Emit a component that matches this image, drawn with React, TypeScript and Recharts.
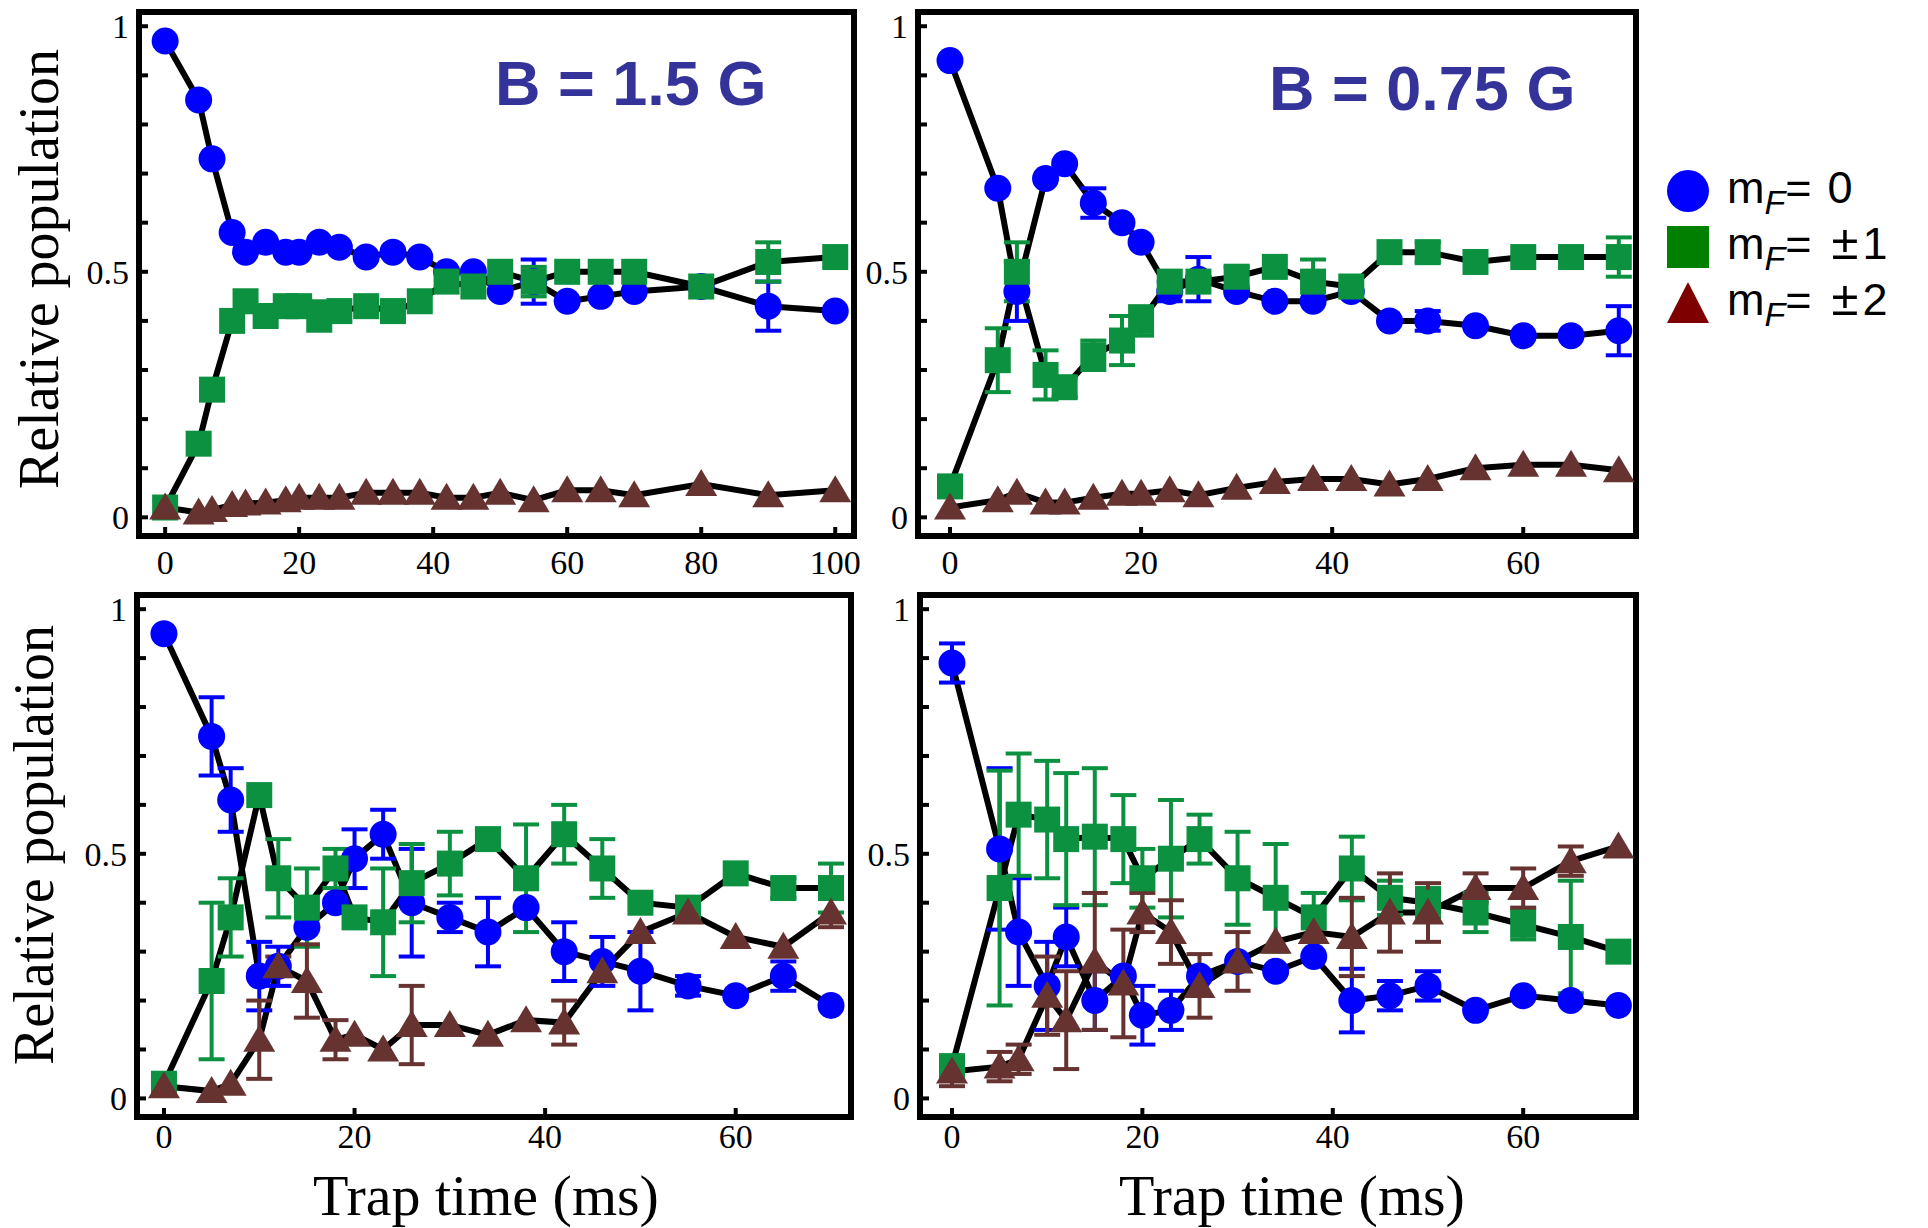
import React from 'react';
import { ComposedChart, Line, Scatter, XAxis, YAxis, ErrorBar, ReferenceArea, Label, Legend } from 'recharts';

// ---------- data ----------
const tlTime = [0, 5, 7, 10, 12, 15, 18, 20, 23, 26, 30, 34, 38, 42, 46, 50, 55, 60, 65, 70, 80, 90, 100];
const tlBlue = [0.97, 0.85, 0.73, 0.58, 0.54, 0.56, 0.54, 0.54, 0.56, 0.55, 0.53, 0.54, 0.53, 0.5, 0.5, 0.46, 0.48, 0.44, 0.45, 0.46, 0.47, 0.43, 0.42];
const tlBlueErr = [0, 0, 0, 0, 0, 0, 0, 0, 0, 0, 0, 0, 0, 0, 0, 0, 0.045, 0, 0, 0, 0, 0.05, 0];
const tlGreen = [0.02, 0.15, 0.26, 0.4, 0.44, 0.41, 0.43, 0.43, 0.41, 0.42, 0.43, 0.42, 0.44, 0.48, 0.47, 0.5, 0.48, 0.5, 0.5, 0.5, 0.47, 0.52, 0.53];
const tlGreenErr = [0, 0, 0, 0, 0, 0, 0, 0, 0.03, 0, 0, 0, 0, 0, 0, 0, 0.03, 0, 0, 0, 0, 0.04, 0];
const tlBrown = [0.02, 0.01, 0.015, 0.025, 0.028, 0.03, 0.035, 0.04, 0.04, 0.04, 0.05, 0.05, 0.05, 0.04, 0.04, 0.05, 0.035, 0.055, 0.055, 0.045, 0.068, 0.045, 0.055];
const tlBrownErr = [0, 0, 0, 0, 0, 0, 0, 0, 0, 0, 0, 0, 0, 0, 0, 0, 0, 0, 0, 0, 0, 0, 0];

const trTime = [0, 5, 7, 10, 12, 15, 18, 20, 23, 26, 30, 34, 38, 42, 46, 50, 55, 60, 65, 70];
const trBlue = [0.93, 0.67, 0.46, 0.69, 0.72, 0.64, 0.6, 0.56, 0.46, 0.485, 0.46, 0.44, 0.44, 0.46, 0.4, 0.4, 0.39, 0.37, 0.37, 0.38];
const trBlueErr = [0, 0, 0.06, 0, 0, 0.03, 0, 0, 0.02, 0.045, 0, 0, 0, 0, 0, 0.02, 0, 0, 0, 0.05];
const trGreen = [0.063, 0.32, 0.5, 0.29, 0.265, 0.33, 0.36, 0.4, 0.48, 0.48, 0.49, 0.51, 0.48, 0.47, 0.54, 0.54, 0.52, 0.53, 0.53, 0.53];
const trGreenErr = [0, 0.065, 0.06, 0.05, 0.02, 0.03, 0.05, 0.03, 0, 0, 0.02, 0, 0.045, 0, 0, 0.02, 0, 0, 0, 0.04];
const trBrown = [0.02, 0.035, 0.05, 0.03, 0.03, 0.04, 0.048, 0.048, 0.055, 0.045, 0.06, 0.072, 0.078, 0.078, 0.067, 0.078, 0.1, 0.107, 0.107, 0.096];
const trBrownErr = [0, 0, 0, 0, 0, 0, 0, 0, 0, 0, 0, 0, 0, 0, 0, 0, 0, 0, 0, 0];

const blTime = [0, 5, 7, 10, 12, 15, 18, 20, 23, 26, 30, 34, 38, 42, 46, 50, 55, 60, 65, 70];
const blBlue = [0.95, 0.74, 0.61, 0.25, 0.27, 0.35, 0.4, 0.49, 0.54, 0.4, 0.37, 0.34, 0.39, 0.3, 0.28, 0.26, 0.23, 0.21, 0.25, 0.19];
const blBlueErr = [0, 0.08, 0.065, 0.07, 0.04, 0, 0, 0.06, 0.05, 0.11, 0.03, 0.07, 0, 0.06, 0.05, 0.08, 0.02, 0, 0.03, 0];
const blGreen = [0.03, 0.24, 0.37, 0.62, 0.45, 0.39, 0.47, 0.37, 0.36, 0.44, 0.48, 0.53, 0.45, 0.54, 0.47, 0.4, 0.39, 0.46, 0.43, 0.43];
const blGreenErr = [0, 0.16, 0.08, 0, 0.08, 0.08, 0.04, 0, 0.11, 0.08, 0.065, 0.02, 0.11, 0.06, 0.06, 0, 0, 0, 0.02, 0.05];
const blBrown = [0.025, 0.015, 0.03, 0.12, 0.27, 0.24, 0.12, 0.13, 0.1, 0.15, 0.15, 0.13, 0.16, 0.155, 0.26, 0.34, 0.38, 0.33, 0.31, 0.38];
const blBrownErr = [0, 0, 0, 0.08, 0.02, 0.075, 0.04, 0, 0, 0.08, 0, 0, 0, 0.045, 0.02, 0, 0, 0, 0, 0.03];

const brTime = [0, 5, 7, 10, 12, 15, 18, 20, 23, 26, 30, 34, 38, 42, 46, 50, 55, 60, 65, 70];
const brBlue = [0.89, 0.51, 0.34, 0.23, 0.33, 0.2, 0.25, 0.17, 0.18, 0.25, 0.28, 0.26, 0.29, 0.2, 0.21, 0.23, 0.18, 0.21, 0.2, 0.19];
const brBlueErr = [0.04, 0.165, 0.11, 0.09, 0.06, 0.06, 0, 0.06, 0.04, 0, 0, 0, 0, 0.065, 0.03, 0.03, 0, 0, 0, 0];
const brGreen = [0.066, 0.43, 0.58, 0.57, 0.53, 0.535, 0.53, 0.45, 0.49, 0.53, 0.45, 0.41, 0.37, 0.47, 0.41, 0.4, 0.38, 0.355, 0.33, 0.3];
const brGreenErr = [0, 0.24, 0.125, 0.12, 0.135, 0.14, 0.09, 0.06, 0.12, 0.05, 0.095, 0.11, 0.05, 0.065, 0.035, 0.03, 0.04, 0.03, 0.115, 0];
const brBrown = [0.055, 0.065, 0.08, 0.21, 0.16, 0.28, 0.235, 0.38, 0.34, 0.23, 0.28, 0.32, 0.34, 0.33, 0.38, 0.38, 0.43, 0.43, 0.485, 0.515];
const brBrownErr = [0.03, 0.03, 0.03, 0.08, 0.1, 0.14, 0.11, 0.04, 0.065, 0.065, 0.06, 0, 0, 0.08, 0.08, 0.06, 0.03, 0.04, 0.03, 0];

const xTicks100 = [0, 20, 40, 60, 80, 100];
const xTicks70 = [0, 20, 40, 60];
const yTicks = [0, 0.1, 0.2, 0.3, 0.4, 0.5, 0.6, 0.7, 0.8, 0.9, 1];
const yLabels: Record<string, string> = { '0': '0', '0.5': '0.5', '1': '1' };

const legendItems = [
  { shape: 'circle', color: '#0000FF', sign: '', num: '0' },
  { shape: 'square', color: '#007F00', sign: '\u00B1', num: '1' },
  { shape: 'triangle', color: '#7F0000', sign: '\u00B1', num: '2' },
];

// ---------- styles ----------
const BLUE = '#0000FF';
const GREEN = '#0B9140';
const BROWN = '#663330';
const SERIF = '"Liberation Serif", "Times New Roman", serif';
const SANS = '"Liberation Sans", Arial, sans-serif';
const Y_DOMAIN: [number, number] = [-0.038, 1.029];

const CircleShape = (p: any) => (p.cx == null ? null : <circle cx={p.cx} cy={p.cy} r={13.5} fill={BLUE} />);
const SquareShape = (p: any) => (p.cx == null ? null : <rect x={p.cx - 13} y={p.cy - 13} width={26} height={26} fill={GREEN} />);
const TriShape = (p: any) =>
  p.cx == null ? null : (
    <polygon points={`${p.cx},${p.cy - 15} ${p.cx - 16},${p.cy + 12} ${p.cx + 16},${p.cy + 12}`} fill={BROWN} />
  );

const LegendContent = () => (
  <div style={{ fontFamily: SANS, fontSize: 45, color: '#000' }}>
    {legendItems.map((it) => (
      <div key={it.num} style={{ display: 'flex', alignItems: 'center', height: 56 }}>
        <svg width={44} height={44} style={{ flex: '0 0 44px' }}>
          {it.shape === 'circle' && <circle cx={22} cy={22} r={21} fill={it.color} />}
          {it.shape === 'square' && <rect x={1} y={1} width={42} height={42} fill={it.color} />}
          {it.shape === 'triangle' && <polygon points="22,1 1,42 43,42" fill={it.color} />}
        </svg>
        <span style={{ marginLeft: 17, whiteSpace: 'nowrap', lineHeight: '44px' }}>
          m<sub style={{ fontStyle: 'italic', fontSize: 34, verticalAlign: '-11px', lineHeight: '30px' }}>F</sub>
          {'='}
          {it.sign && <span style={{ fontSize: 49, lineHeight: '40px', marginLeft: 20, marginRight: 4 }}>{it.sign}</span>}
          <span style={{ marginLeft: it.sign ? 0 : 16 }}>{it.num}</span>
        </span>
      </div>
    ))}
  </div>
);

type Cfg = {
  key: string;
  left: number;
  top: number;
  width: number;
  height: number;
  margin: { top: number; right: number; bottom: number; left: number };
  yAxisWidth: number;
  xAxisHeight: number;
  xDomain: [number, number];
  xTicks: number[];
  xTickMargin: number;
  time: number[];
  blue: number[];
  blueErr: number[];
  green: number[];
  greenErr: number[];
  brown: number[];
  brownErr: number[];
  bLabel?: string;
  bLabelDx?: number;
  bLabelDy?: number;
  yTitle?: { dx: number; dy: number };
  xTitle?: { dx: number; dy: number };
  legend?: boolean;
};

const panels: Cfg[] = [
  {
    key: 'tl', left: 0, top: 0, width: 860, height: 580,
    margin: { top: 12, right: 6, bottom: 0, left: 0 }, yAxisWidth: 139, xAxisHeight: 44,
    xDomain: [-3.9, 102.8], xTicks: xTicks100, xTickMargin: 23,
    time: tlTime, blue: tlBlue, blueErr: tlBlueErr, green: tlGreen, greenErr: tlGreenErr, brown: tlBrown, brownErr: tlBrownErr,
    bLabel: 'B = 1.5 G', bLabelDx: 356, bLabelDy: 93, yTitle: { dx: 58, dy: -5 },
  },
  {
    key: 'tr', left: 860, top: 0, width: 1068, height: 580,
    margin: { top: 12, right: 292, bottom: 0, left: 0 }, yAxisWidth: 58, xAxisHeight: 44,
    xDomain: [-3.35, 71.8], xTicks: xTicks70, xTickMargin: 23,
    time: trTime, blue: trBlue, blueErr: trBlueErr, green: trGreen, greenErr: trGreenErr, brown: trBrown, brownErr: trBrownErr,
    bLabel: 'B = 0.75 G', bLabelDx: 351, bLabelDy: 98, legend: true,
  },
  {
    key: 'bl', left: 0, top: 580, width: 860, height: 648,
    margin: { top: 15, right: 9, bottom: 0, left: 0 }, yAxisWidth: 137, xAxisHeight: 111,
    xDomain: [-2.83, 72.1], xTicks: xTicks70, xTickMargin: 16,
    time: blTime, blue: blBlue, blueErr: blBlueErr, green: blGreen, greenErr: blGreenErr, brown: blBrown, brownErr: blBrownErr,
    yTitle: { dx: 53, dy: -11 }, xTitle: { dx: -8, dy: 98 },
  },
  {
    key: 'br', left: 860, top: 580, width: 800, height: 648,
    margin: { top: 15, right: 24, bottom: 0, left: 0 }, yAxisWidth: 60, xAxisHeight: 111,
    xDomain: [-3.36, 71.85], xTicks: xTicks70, xTickMargin: 16,
    time: brTime, blue: brBlue, blueErr: brBlueErr, green: brGreen, greenErr: brGreenErr, brown: brBrown, brownErr: brBrownErr,
    xTitle: { dx: 14, dy: 98 },
  },
];

const tickStyle = { fontFamily: SERIF, fontSize: 34, fill: '#000' };
const tickLineStyle = { stroke: '#000', strokeWidth: 4 };

function Panel({ cfg }: { cfg: Cfg }) {
  const rows = cfg.time.map((t, i) => ({
    t,
    b: cfg.blue[i], bE: cfg.blueErr[i],
    g: cfg.green[i], gE: cfg.greenErr[i],
    r: cfg.brown[i], rE: cfg.brownErr[i],
  }));
  return (
    <div style={{ position: 'absolute', left: cfg.left, top: cfg.top, width: cfg.width, height: cfg.height }}>
      <ComposedChart width={cfg.width} height={cfg.height} data={rows} margin={cfg.margin}>
        <XAxis
          dataKey="t" type="number" domain={cfg.xDomain} allowDataOverflow ticks={cfg.xTicks} interval={0}
          height={cfg.xAxisHeight} axisLine={false} tickSize={-9} tickMargin={cfg.xTickMargin}
          tickLine={tickLineStyle} tick={tickStyle}
        >
          {cfg.xTitle && (
            <Label
              content={(props: any) => {
                const vb = props.viewBox || {};
                const x = vb.x + vb.width / 2 + cfg.xTitle!.dx;
                const y = vb.y + cfg.xTitle!.dy;
                return (
                  <text x={x} y={y} textAnchor="middle" fontFamily={SERIF} fontSize={58} fill="#000">
                    Trap time (ms)
                  </text>
                );
              }}
            />
          )}
        </XAxis>
        <XAxis
          xAxisId="top" orientation="top" dataKey="t" type="number" domain={cfg.xDomain} allowDataOverflow
          ticks={cfg.xTicks} interval={0} height={0} axisLine={false} tickSize={-9} tickLine={tickLineStyle} tick={false}
        />
        <YAxis
          type="number" domain={Y_DOMAIN} allowDataOverflow ticks={yTicks} interval={0}
          tickFormatter={(v: number) => yLabels[String(v)] ?? ''}
          width={cfg.yAxisWidth} axisLine={false} tickSize={-9} tickMargin={19} tickLine={tickLineStyle} tick={tickStyle}
        >
          {cfg.yTitle && (
            <Label
              content={(props: any) => {
                const vb = props.viewBox || {};
                const x = vb.x + cfg.yTitle!.dx;
                const y = vb.y + vb.height / 2 + cfg.yTitle!.dy;
                return (
                  <text x={x} y={y} transform={`rotate(-90 ${x} ${y})`} textAnchor="middle" fontFamily={SERIF} fontSize={56} fill="#000">
                    Relative population
                  </text>
                );
              }}
            />
          )}
        </YAxis>
        <YAxis
          yAxisId="right" orientation="right" type="number" domain={Y_DOMAIN} allowDataOverflow ticks={yTicks} interval={0}
          width={0} axisLine={false} tickSize={-9} tickLine={tickLineStyle} tick={false}
        />
        <ReferenceArea
          x1={cfg.xDomain[0]} x2={cfg.xDomain[1]} y1={Y_DOMAIN[0]} y2={Y_DOMAIN[1]}
          fill="none" fillOpacity={0} stroke="#000" strokeWidth={6} ifOverflow="visible"
        >
          {cfg.bLabel && (
            <Label
              content={(props: any) => {
                const vb = props.viewBox || {};
                return (
                  <text x={vb.x + cfg.bLabelDx!} y={vb.y + cfg.bLabelDy!} fontFamily={SANS} fontWeight="bold" fontSize={63} fill="#333399">
                    {cfg.bLabel}
                  </text>
                );
              }}
            />
          )}
        </ReferenceArea>
        <Line dataKey="b" type="linear" stroke="#000" strokeWidth={6} dot={false} activeDot={false} isAnimationActive={false} />
        <Line dataKey="g" type="linear" stroke="#000" strokeWidth={6} dot={false} activeDot={false} isAnimationActive={false} />
        <Line dataKey="r" type="linear" stroke="#000" strokeWidth={6} dot={false} activeDot={false} isAnimationActive={false} />
        <Scatter dataKey="b" shape={CircleShape} isAnimationActive={false}>
          <ErrorBar dataKey="bE" direction="y" width={13} strokeWidth={4} stroke={BLUE} />
        </Scatter>
        <Scatter dataKey="g" shape={SquareShape} isAnimationActive={false}>
          <ErrorBar dataKey="gE" direction="y" width={13} strokeWidth={4} stroke={GREEN} />
        </Scatter>
        <Scatter dataKey="r" shape={TriShape} isAnimationActive={false}>
          <ErrorBar dataKey="rE" direction="y" width={13} strokeWidth={4} stroke={BROWN} />
        </Scatter>
        {cfg.legend && (
          <Legend
            layout="vertical" align="center" verticalAlign="middle"
            content={() => <LegendContent />}
            wrapperStyle={{ left: 806, top: 163, width: 262 }}
          />
        )}
      </ComposedChart>
    </div>
  );
}

export default function App() {
  return (
    <div style={{ position: 'absolute', left: 0, top: 0, width: 1928, height: 1228, background: '#fff' }}>
      {panels.map((p) => (
        <Panel key={p.key} cfg={p} />
      ))}
    </div>
  );
}
